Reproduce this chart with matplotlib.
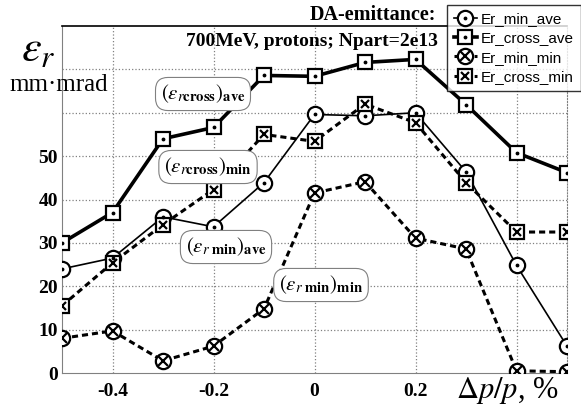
import numpy as np
import matplotlib.pyplot as plt

plt.rcParams['font.family'] = 'Liberation Serif'
plt.rcParams['mathtext.fontset'] = 'stix'

#%% Data

dp = [-0.5, -0.4, -0.3, -0.2, -0.1, 0.0, 0.1, 0.2, 0.3, 0.4, 0.5]
er_min_ave = [24.0, 26.5, 36.0, 33.7, 43.9, 59.6, 59.3, 60.0, 46.4, 24.8, 6.2]
er_cross_ave = [30.0, 37.0, 54.0, 56.6, 68.6, 68.4, 71.6, 72.3, 61.9, 50.8, 46.2]
er_min_min = [8.0, 9.7, 2.8, 6.2, 14.8, 41.5, 44.1, 31.1, 28.6, 0.5, 0.3]
er_cross_min = [15.5, 25.4, 34.2, 42.3, 55.0, 53.4, 62.0, 57.7, 43.9, 32.5, 32.5]

xticks = [-0.4, -0.2, 0, 0.2]
xtick_labels = ['-0.4', '-0.2', '0', '0.2']
yticks = [0, 10, 20, 30, 40, 50]

#%% Plot

fig = plt.figure(figsize=(5.81, 4.09), dpi=100)
ax = fig.add_axes([62/581, 1 - 373/409, 505/581, 347/409])

# name, values, dashed?, linewidth, marker, inner marker, marker size
series = [
    ('Er_min_ave', er_min_ave, False, 1.2, 'o', '.', 11),
    ('Er_cross_ave', er_cross_ave, False, 2.6, 's', '.', 9.5),
    ('Er_min_min', er_min_min, True, 2.2, 'o', 'x', 11),
    ('Er_cross_min', er_cross_min, True, 2.2, 's', 'x', 9.5),
]

handles = []
for name, vals, dashed, lw, mk, inner, ms in series:
    l1, = ax.plot(dp, vals, linewidth=lw, color='black',
                  marker=mk, markersize=ms, markerfacecolor='white',
                  markeredgecolor='black', markeredgewidth=1.6, zorder=3)
    if dashed:
        l1.set_dashes((2.0, 1.3))
    if inner == '.':
        l2, = ax.plot(dp, vals, linestyle='none', marker='.', markersize=3.5,
                      color='black', zorder=4)
    else:
        l2, = ax.plot(dp, vals, linestyle='none', marker='x', markersize=ms*0.62,
                      markeredgewidth=1.6, color='black', zorder=4)
    handles.append((l1, l2))

ax.set_xlim(-0.5, 0.5)
ax.set_ylim(0, 80)

ax.set_xticks(xticks)
ax.set_xticklabels(xtick_labels)
ax.set_yticks(yticks)
ax.tick_params(length=0, labelsize=14)
ax.tick_params(axis='x', pad=7)
ax.tick_params(axis='y', pad=3)
for lab in ax.get_xticklabels() + ax.get_yticklabels():
    lab.set_fontweight('bold')

# grid
for gx in [-0.4, -0.2, 0, 0.2, 0.4]:
    ax.axvline(gx, color='gray', linestyle=':', linewidth=0.9, zorder=1)
for gy in range(10, 80, 10):
    ax.axhline(gy, color='gray', linestyle=':', linewidth=0.9, zorder=1)

ax.spines['left'].set_color('gray')
ax.spines['bottom'].set_color('gray')
ax.spines['top'].set_color('black')
ax.spines['top'].set_linewidth(1.2)
ax.spines['right'].set_color('gray')
ax.spines['right'].set_linestyle(':')

# axis labels
fig.text(38/581, 1 - 50/409, r'$\varepsilon_r$', fontsize=32, ha='center', va='center')
fig.text(59/581, 1 - 85/409, 'mm\u00b7mrad', fontsize=18, ha='center', va='center')
fig.text(507/581, 1 - 391/409, r'$\Delta p/p$, %', fontsize=22, ha='center', va='center')

# titles
fig.text(373/581, 1 - 15/409, 'DA-emittance:', fontsize=14.5, fontweight='bold',
         ha='center', va='center')
fig.text(312/581, 1 - 42/409, '700MeV, protons; Npart=2e13', fontsize=14,
         fontweight='bold', ha='center', va='center')

# curve annotations
box = dict(boxstyle='round,pad=0.25,rounding_size=0.6', facecolor='white',
           edgecolor='gray', linewidth=0.8)
ann = [
    (203, 94, r'$(\varepsilon_{r\mathbf{cross}})_{\mathbf{ave}}$'),
    (208, 167, r'$(\varepsilon_{r\mathbf{cross}})_{\mathbf{min}}$'),
    (226, 247, r'$(\varepsilon_{r\ \mathbf{min}})_{\mathbf{ave}}$'),
    (321, 285, r'$(\varepsilon_{r\ \mathbf{min}})_{\mathbf{min}}$'),
]
for px, py, txt in ann:
    fig.text(px/581, 1 - py/409, txt, fontsize=15, ha='center', va='center',
             bbox=box, zorder=5)

leg = fig.legend(handles, [s[0] for s in series], loc='upper right',
                 bbox_to_anchor=(1.0, 1 - 5/409), frameon=True, fancybox=False,
                 edgecolor='black', handlelength=1.5, handletextpad=0.3,
                 borderpad=0.45, labelspacing=0.35, borderaxespad=0,
                 prop={'family': 'Liberation Sans', 'size': 11})
leg.get_frame().set_linewidth(1.0)

fig.savefig('out.png', dpi=100)
